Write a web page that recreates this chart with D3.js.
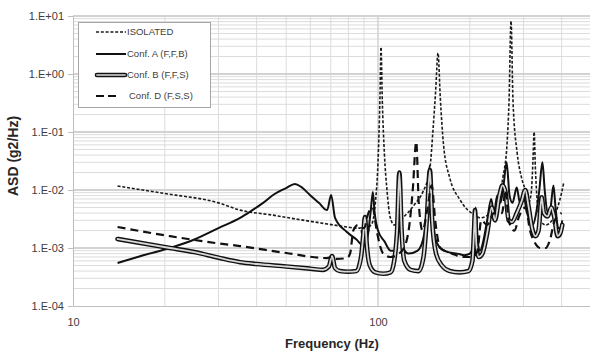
<!DOCTYPE html>
<html>
<head>
<meta charset="utf-8">
<script src="https://cdn.jsdelivr.net/npm/d3@7"></script>
<style>
  body { margin: 0; background: #fff; }
  svg { display: block; font-family: 'Liberation Sans', Arial, sans-serif; }
</style>
</head>
<body>
<svg id="chart" width="590" height="354"></svg>
<script>
// values: [frequency Hz, ASD g2/Hz]
var isolated = [[14, 0.0117], [20, 0.0087], [30, 0.006], [35.3, 0.0045], [45, 0.0037], [55, 0.0031], [65, 0.0027],
  [75, 0.0024], [86, 0.0022], [88, 0.0022], [88.5, 0.0017], [89.5, 0.0022], [92, 0.0022], [92.5, 0.0017],
  [93.5, 0.0022], [96, 0.0028], [98, 0.006], [100, 0.03], [101.5, 0.4], [102.3, 2.9], [103.3, 0.35], [105, 0.04],
  [107, 0.01], [109.5, 0.0035], [113, 0.0025], [118, 0.003], [125, 0.004], [133, 0.006], [140, 0.009], [148, 0.024],
  [151.5, 0.11], [154.5, 0.5], [157.3, 2.3], [160, 0.4], [164, 0.06], [172, 0.016], [185, 0.007], [197, 0.0045],
  [208, 0.0037], [216, 0.0033], [233, 0.004], [247, 0.0067], [257, 0.017], [265, 0.064], [269, 0.36], [273, 8.2],
  [277, 0.36], [286, 0.043], [295, 0.017], [304, 0.01], [312, 0.006], [318, 0.009], [322, 0.03], [325, 0.1],
  [328, 0.025], [333, 0.006], [340, 0.003], [355, 0.0025], [372, 0.003], [388, 0.005], [400, 0.009], [406, 0.013]];

var confA = [[14, 0.00055], [17, 0.00075], [20.8, 0.001], [25, 0.0014], [30, 0.0022], [35.3, 0.0033], [38, 0.0042],
  [42, 0.006], [45.3, 0.0082], [50, 0.0108], [53.4, 0.0127], [56, 0.0113], [59.8, 0.0082], [64, 0.006],
  [68.1, 0.0045], [70.2, 0.0082], [72.3, 0.0033], [78.9, 0.0019], [85, 0.0014], [89, 0.00113], [91.5, 0.0012],
  [94.5, 0.004], [96.2, 0.0092], [97.5, 0.004], [100, 0.002], [105, 0.0013], [110, 0.0009], [113, 0.0009],
  [115.5, 0.004], [117, 0.02], [118.5, 0.005], [121, 0.001], [126, 0.0008], [135, 0.0009], [142, 0.0018],
  [145, 0.006], [147.5, 0.026], [150, 0.006], [154, 0.0015], [160, 0.001], [170, 0.00085], [182, 0.0008],
  [192, 0.00075], [200, 0.0008], [206, 0.0012], [209, 0.005], [212, 0.0015], [216, 0.0009], [222, 0.0014],
  [228, 0.003], [235, 0.007], [240, 0.004], [246, 0.008], [252, 0.006], [258, 0.012], [264, 0.03], [270, 0.008],
  [276, 0.006], [285, 0.011], [292, 0.006], [300, 0.008], [308, 0.004], [315, 0.003], [322, 0.0025], [330, 0.004],
  [338, 0.01], [346, 0.03], [352, 0.01], [360, 0.004], [368, 0.005], [376, 0.012], [382, 0.005], [390, 0.0022],
  [396, 0.0022], [402, 0.003]];

var confB = [[14, 0.00143], [20.8, 0.001], [25, 0.00085], [30, 0.00068], [35.3, 0.00057], [40, 0.00053], [50, 0.00048],
  [60, 0.00044], [66, 0.00042], [69, 0.00048], [70.7, 0.00073], [72.3, 0.00045], [75, 0.0004], [80, 0.00039],
  [85, 0.0004], [88, 0.0007], [89.5, 0.0017], [90.6, 0.0034], [91.8, 0.0012], [94, 0.0005], [98, 0.00038],
  [104, 0.00036], [110, 0.00038], [113, 0.0006], [115.5, 0.002], [117.5, 0.02], [119.5, 0.002], [122, 0.0006],
  [128, 0.00042], [136, 0.0004], [141, 0.0007], [144.5, 0.003], [148, 0.022], [150.5, 0.003], [155, 0.0008],
  [162, 0.0005], [172, 0.0004], [185, 0.00038], [198, 0.0004], [204, 0.0006], [206.5, 0.002], [208, 0.0045],
  [210, 0.0012], [214, 0.0007], [220, 0.0008], [228, 0.0018], [236, 0.005], [242, 0.003], [250, 0.008],
  [256, 0.012], [262, 0.009], [268, 0.003], [275, 0.0028], [285, 0.004], [296, 0.0065], [304, 0.01], [312, 0.005],
  [320, 0.0022], [328, 0.0016], [336, 0.002], [344, 0.0075], [350, 0.004], [360, 0.0035], [370, 0.005],
  [378, 0.0035], [388, 0.0016], [396, 0.0018], [402, 0.0025]];

var confD = [[14, 0.0023], [20.8, 0.0016], [30, 0.0012], [35.3, 0.00108], [50, 0.00082], [68, 0.00067], [70.5, 0.0007],
  [73, 0.00065], [79, 0.00067], [81, 0.0008], [83, 0.002], [86, 0.0025], [90, 0.0022], [93, 0.004], [96, 0.005],
  [99, 0.002], [104, 0.0008], [110, 0.0007], [120, 0.0009], [126, 0.002], [130, 0.01], [133.5, 0.068], [136, 0.006],
  [140, 0.002], [145, 0.0045], [150, 0.012], [154, 0.003], [160, 0.001], [175, 0.0008], [190, 0.0007], [205, 0.0007],
  [212, 0.0009], [218, 0.003], [228, 0.0025], [240, 0.004], [255, 0.004], [262, 0.01], [268, 0.003], [280, 0.002],
  [290, 0.0035], [305, 0.005], [315, 0.002], [325, 0.0013], [340, 0.001], [355, 0.001], [365, 0.0013], [380, 0.003],
  [400, 0.004]];

var seriesNames = ['ISOLATED', 'Conf. A (F,F,B)', 'Conf. B (F,F,S)', 'Conf. D (F,S,S)'];
var yTicks = [1e-4, 1e-3, 1e-2, 1e-1, 1, 10];
var xTicks = [10, 100];

var svg = d3.select('#chart'),
  margin = {top: 16, left: 73},
  plotH = 290;

var x = d3.scaleLog().domain([10, 1000]).range([margin.left, margin.left + 610]),
  y = d3.scaleLog().domain([1e-4, 10]).range([margin.top + plotH, margin.top]);

// gridlines
var minorY = [], minorX = [];
for (var e = -4; e < 1; e++) for (var k = 2; k <= 9; k++) minorY.push(k * Math.pow(10, e));
for (var e2 = 1; e2 < 3; e2++) for (var k2 = 2; k2 <= 9; k2++) minorX.push(k2 * Math.pow(10, e2));

var grid = svg.append('g');
grid.selectAll('.hmin').data(minorY).enter().append('line')
  .attr('x1', margin.left).attr('x2', 590)
  .attr('y1', function(d) { return y(d); }).attr('y2', function(d) { return y(d); })
  .attr('stroke', '#dcdcdc').attr('stroke-width', 1);
grid.selectAll('.vmin').data(minorX).enter().append('line')
  .attr('x1', function(d) { return x(d); }).attr('x2', function(d) { return x(d); })
  .attr('y1', margin.top).attr('y2', margin.top + plotH)
  .attr('stroke', '#dcdcdc').attr('stroke-width', 1);
grid.selectAll('.hmaj').data(yTicks.slice(1)).enter().append('line')
  .attr('x1', margin.left).attr('x2', 590)
  .attr('y1', function(d) { return y(d); }).attr('y2', function(d) { return y(d); })
  .attr('stroke', '#d2d2d2').attr('stroke-width', 2);
grid.selectAll('.vmaj').data([100]).enter().append('line')
  .attr('x1', function(d) { return x(d); }).attr('x2', function(d) { return x(d); })
  .attr('y1', margin.top).attr('y2', margin.top + plotH)
  .attr('stroke', '#d2d2d2').attr('stroke-width', 1.5);

// axes
var expFmt = function(d) {
  var p = Math.round(Math.log10(d));
  return '1.E' + (p < 0 ? '-' : '+') + (Math.abs(p) < 10 ? '0' : '') + Math.abs(p);
};

var yAxis = svg.append('g')
  .attr('transform', 'translate(' + margin.left + ',0)')
  .call(d3.axisLeft(y).tickValues(yTicks).tickFormat(expFmt).tickSize(5).tickSizeOuter(0).tickPadding(4));
yAxis.select('.domain').attr('stroke', '#bfbfbf');
yAxis.selectAll('.tick line').attr('stroke', '#bfbfbf');
yAxis.selectAll('text').attr('font-size', 11).attr('fill', '#404040');

var xAxis = svg.append('g')
  .attr('transform', 'translate(0,' + (margin.top + plotH) + ')')
  .call(d3.axisBottom(x).tickValues(xTicks).tickFormat(d3.format('d')).tickSize(0).tickPadding(12));
xAxis.select('.domain').attr('stroke', '#bfbfbf');
xAxis.selectAll('text').attr('font-size', 11).attr('fill', '#404040');

svg.append('text')
  .attr('x', 332).attr('y', 348)
  .attr('text-anchor', 'middle')
  .attr('font-size', 13).attr('font-weight', 'bold').attr('fill', '#262626')
  .text('Frequency (Hz)');

svg.append('text')
  .attr('transform', 'translate(13,156) rotate(-90)')
  .attr('dy', '0.35em')
  .attr('text-anchor', 'middle')
  .attr('font-size', 14).attr('font-weight', 'bold').attr('fill', '#262626')
  .text('ASD (g2/Hz)');

// series
svg.append('clipPath').attr('id', 'plotClip')
  .append('rect').attr('x', margin.left).attr('y', margin.top).attr('width', 610).attr('height', plotH);

var line = d3.line()
  .x(function(d) { return x(d[0]); })
  .y(function(d) { return y(d[1]); })
  .curve(d3.curveMonotoneX);

var g = svg.append('g').attr('clip-path', 'url(#plotClip)');

g.append('path').datum(isolated)
  .attr('fill', 'none').attr('stroke', '#1a1a1a').attr('stroke-width', 1.6)
  .attr('stroke-dasharray', '3,1.8').attr('d', line);

g.append('path').datum(confA)
  .attr('fill', 'none').attr('stroke', '#111').attr('stroke-width', 2)
  .attr('stroke-linejoin', 'round').attr('d', line);

g.append('path').datum(confB)
  .attr('fill', 'none').attr('stroke', '#111').attr('stroke-width', 4.6)
  .attr('stroke-linejoin', 'round').attr('stroke-linecap', 'round').attr('d', line);
g.append('path').datum(confB)
  .attr('fill', 'none').attr('stroke', '#d8d8d8').attr('stroke-width', 1.8)
  .attr('stroke-linejoin', 'round').attr('stroke-linecap', 'round').attr('d', line);

g.append('path').datum(confD)
  .attr('fill', 'none').attr('stroke', '#111').attr('stroke-width', 2.2)
  .attr('stroke-dasharray', '8,5').attr('d', line);

// legend
var legend = svg.append('g');
legend.append('rect')
  .attr('x', 78.5).attr('y', 22.5).attr('width', 132).attr('height', 85)
  .attr('fill', '#fff').attr('stroke', '#a6a6a6');

var rowsY = [32, 54, 75, 96];
var sw = legend.append('g');
sw.append('line').attr('x1', 96).attr('x2', 126).attr('y1', rowsY[0]).attr('y2', rowsY[0])
  .attr('stroke', '#1a1a1a').attr('stroke-width', 1.6).attr('stroke-dasharray', '3,1.8');
sw.append('line').attr('x1', 96).attr('x2', 126).attr('y1', rowsY[1]).attr('y2', rowsY[1])
  .attr('stroke', '#111').attr('stroke-width', 2);
sw.append('line').attr('x1', 97).attr('x2', 125).attr('y1', rowsY[2]).attr('y2', rowsY[2])
  .attr('stroke', '#111').attr('stroke-width', 4.6).attr('stroke-linecap', 'round');
sw.append('line').attr('x1', 97).attr('x2', 125).attr('y1', rowsY[2]).attr('y2', rowsY[2])
  .attr('stroke', '#aaa').attr('stroke-width', 1.8).attr('stroke-linecap', 'round');
sw.append('line').attr('x1', 96).attr('x2', 116).attr('y1', rowsY[3]).attr('y2', rowsY[3])
  .attr('stroke', '#111').attr('stroke-width', 2.2).attr('stroke-dasharray', '8,4');

legend.selectAll('.ltext').data(seriesNames).enter().append('text')
  .attr('x', function(d, i) { return i === 3 ? 129 : 127; })
  .attr('y', function(d, i) { return rowsY[i]; })
  .attr('dy', '0.35em')
  .attr('font-size', 9.5).attr('fill', '#404040')
  .text(function(d) { return d; });
</script>
</body>
</html>
